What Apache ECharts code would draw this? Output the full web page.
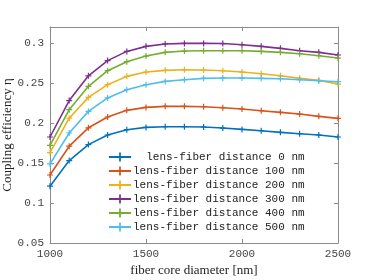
<!DOCTYPE html>
<html><head><meta charset="utf-8">
<script src="https://cdn.jsdelivr.net/npm/echarts@6/dist/echarts.min.js"></script>
<style>html,body{margin:0;padding:0;background:#fff}#c{width:374px;height:280px}</style>
</head><body><div id="c"></div>
<script>
const diameters = [1000,1100,1200,1300,1400,1500,1600,1700,1800,1900,2000,2100,2200,2300,2400,2500];
const seriesNames = ['  lens-fiber distance 0 nm','lens-fiber distance 100 nm','lens-fiber distance 200 nm','lens-fiber distance 300 nm','lens-fiber distance 400 nm','lens-fiber distance 500 nm'];
const d0   = [0.121,0.153,0.173,0.185,0.1916,0.1945,0.1954,0.1954,0.195,0.1937,0.192,0.1904,0.1883,0.1866,0.185,0.1825];
const d100 = [0.135,0.171,0.194,0.2075,0.2158,0.2195,0.2208,0.2208,0.2204,0.2191,0.2175,0.2154,0.2133,0.2112,0.2083,0.2058];
const d200 = [0.163,0.206,0.232,0.2479,0.2583,0.2637,0.2658,0.2666,0.2662,0.2654,0.2637,0.2616,0.259,0.2558,0.2533,0.2487];
const d300 = [0.1825,0.228,0.259,0.278,0.2895,0.2958,0.2988,0.2995,0.2995,0.2993,0.2979,0.2958,0.2933,0.2904,0.2883,0.285];
const d400 = [0.172,0.2166,0.2458,0.2654,0.2766,0.2837,0.2883,0.29,0.2904,0.2904,0.2904,0.2895,0.2883,0.2866,0.2841,0.2812];
const d500 = [0.149,0.1875,0.2145,0.2313,0.2416,0.2479,0.252,0.2541,0.2558,0.2562,0.2562,0.2558,0.2554,0.2541,0.2529,0.2516];
const colors = ['#0072BD','#D95319','#EDB120','#7E2F8E','#77AC30','#4DBEEE'];
const allData = [d0,d100,d200,d300,d400,d500];

const plus = 'path://M4,0 L6,0 L6,4 L10,4 L10,6 L6,6 L6,10 L4,10 L4,6 L0,6 L0,4 L4,4 Z';
const mono = '"Liberation Mono", "DejaVu Sans Mono", monospace';
const serif = '"Liberation Serif", "DejaVu Serif", serif';
const axisLineStyle = {color:'#8c8c8c', width:1};

const chart = echarts.init(document.getElementById('c'));
chart.setOption({
  animation:false,
  color: colors,
  grid:{left:50, right:36, top:27, bottom:37, containLabel:false, outerBoundsMode:'none'},
  legend:{
    orient:'vertical', left:103, top:146.5,
    itemWidth:22, itemHeight:11, itemGap:3,
    textStyle:{fontFamily:mono, fontSize:11, color:'#222', padding:[0,0,0,-3]},
    data: seriesNames
  },
  xAxis:[{
    type:'value', min:1000, max:2500, interval:500,
    name:'fiber core diameter [nm]', nameLocation:'middle', nameGap:21, nameMoveOverlap:false,
    nameTextStyle:{fontFamily:serif, fontSize:13, color:'#222'},
    axisLine:{show:true, lineStyle:axisLineStyle},
    axisTick:{show:true, inside:true, length:4, lineStyle:axisLineStyle},
    axisLabel:{fontFamily:mono, fontSize:11, color:'#444', margin:6, formatter: v => String(v)},
    splitLine:{show:false}
  },{
    type:'value', min:1000, max:2500, interval:500, position:'top',
    axisLine:{show:true, lineStyle:axisLineStyle},
    axisTick:{show:true, inside:true, length:4, lineStyle:axisLineStyle},
    axisLabel:{show:false}, splitLine:{show:false}
  }],
  yAxis:[{
    type:'value', min:0.05, max:0.32, interval:0.05,
    name:'Coupling efficiency η', nameLocation:'middle', nameGap:36, nameMoveOverlap:false,
    nameTextStyle:{fontFamily:serif, fontSize:13, color:'#222'},
    axisLine:{show:true, lineStyle:axisLineStyle},
    axisTick:{show:true, inside:true, length:4, lineStyle:axisLineStyle},
    axisLabel:{fontFamily:mono, fontSize:11, color:'#444', margin:6, showMaxLabel:false},
    splitLine:{show:false}
  },{
    type:'value', min:0.05, max:0.32, interval:0.05, position:'right',
    axisLine:{show:true, lineStyle:axisLineStyle},
    axisTick:{show:true, inside:true, length:4, lineStyle:axisLineStyle},
    axisLabel:{show:false}, splitLine:{show:false}
  }],
  series: allData.map((arr,i)=>({
    name: seriesNames[i], type:'line',
    data: diameters.map((x,j)=>[x,arr[j]]),
    symbol: plus, symbolSize:6, showSymbol:true,
    lineStyle:{width:1.6, color:colors[i]},
    itemStyle:{color:colors[i]}
  }))
});
</script></body></html>
